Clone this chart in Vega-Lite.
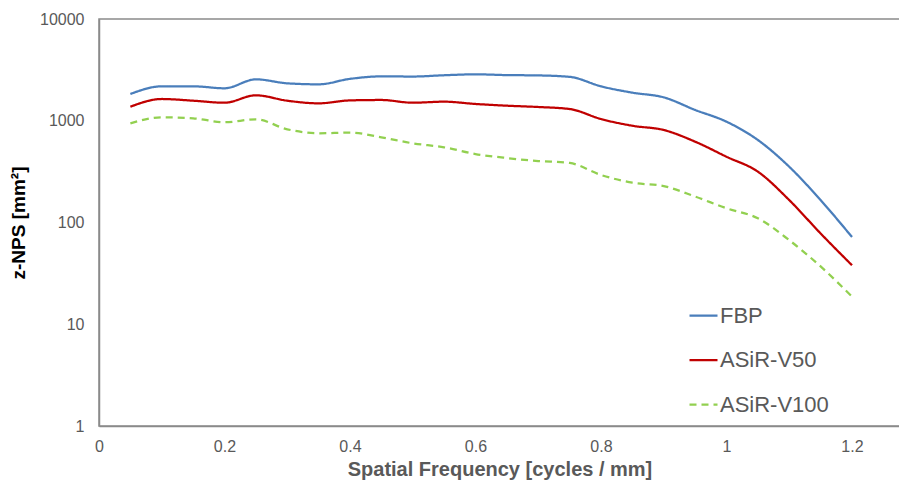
{
  "$schema": "https://vega.github.io/schema/vega-lite/v6.json",
  "width": 801,
  "height": 407,
  "autosize": {"type": "none"},
  "padding": {"left": 99, "top": 19, "right": 0, "bottom": 55},
  "background": "white",
  "config": {
    "view": {"stroke": "#8a8a8a", "strokeWidth": 1.5},
    "font": "Liberation Sans"
  },
  "data": {
    "values": [
      {"f": 0.05, "s": "FBP", "v": 1832},
      {"f": 0.10, "s": "FBP", "v": 2180},
      {"f": 0.15, "s": "FBP", "v": 2180},
      {"f": 0.20, "s": "FBP", "v": 2085},
      {"f": 0.25, "s": "FBP", "v": 2553},
      {"f": 0.30, "s": "FBP", "v": 2333},
      {"f": 0.35, "s": "FBP", "v": 2280},
      {"f": 0.40, "s": "FBP", "v": 2580},
      {"f": 0.45, "s": "FBP", "v": 2730},
      {"f": 0.50, "s": "FBP", "v": 2720},
      {"f": 0.55, "s": "FBP", "v": 2800},
      {"f": 0.60, "s": "FBP", "v": 2860},
      {"f": 0.65, "s": "FBP", "v": 2810},
      {"f": 0.70, "s": "FBP", "v": 2790},
      {"f": 0.75, "s": "FBP", "v": 2700},
      {"f": 0.80, "s": "FBP", "v": 2180},
      {"f": 0.85, "s": "FBP", "v": 1888},
      {"f": 0.90, "s": "FBP", "v": 1698},
      {"f": 0.95, "s": "FBP", "v": 1277},
      {"f": 1.00, "s": "FBP", "v": 979},
      {"f": 1.05, "s": "FBP", "v": 647},
      {"f": 1.10, "s": "FBP", "v": 353},
      {"f": 1.15, "s": "FBP", "v": 166},
      {"f": 1.20, "s": "FBP", "v": 72},
      {"f": 0.05, "s": "ASiR-V50", "v": 1374},
      {"f": 0.10, "s": "ASiR-V50", "v": 1636},
      {"f": 0.15, "s": "ASiR-V50", "v": 1574},
      {"f": 0.20, "s": "ASiR-V50", "v": 1504},
      {"f": 0.25, "s": "ASiR-V50", "v": 1778},
      {"f": 0.30, "s": "ASiR-V50", "v": 1574},
      {"f": 0.35, "s": "ASiR-V50", "v": 1483},
      {"f": 0.40, "s": "ASiR-V50", "v": 1585},
      {"f": 0.45, "s": "ASiR-V50", "v": 1600},
      {"f": 0.50, "s": "ASiR-V50", "v": 1504},
      {"f": 0.55, "s": "ASiR-V50", "v": 1540},
      {"f": 0.60, "s": "ASiR-V50", "v": 1462},
      {"f": 0.65, "s": "ASiR-V50", "v": 1406},
      {"f": 0.70, "s": "ASiR-V50", "v": 1365},
      {"f": 0.75, "s": "ASiR-V50", "v": 1304},
      {"f": 0.80, "s": "ASiR-V50", "v": 1040},
      {"f": 0.85, "s": "ASiR-V50", "v": 893},
      {"f": 0.90, "s": "ASiR-V50", "v": 811},
      {"f": 0.95, "s": "ASiR-V50", "v": 623},
      {"f": 1.00, "s": "ASiR-V50", "v": 443},
      {"f": 1.05, "s": "ASiR-V50", "v": 316},
      {"f": 1.10, "s": "ASiR-V50", "v": 166},
      {"f": 1.15, "s": "ASiR-V50", "v": 78},
      {"f": 1.20, "s": "ASiR-V50", "v": 38},
      {"f": 0.05, "s": "ASiR-V100", "v": 944},
      {"f": 0.10, "s": "ASiR-V100", "v": 1081},
      {"f": 0.15, "s": "ASiR-V100", "v": 1057},
      {"f": 0.20, "s": "ASiR-V100", "v": 967},
      {"f": 0.25, "s": "ASiR-V100", "v": 1033},
      {"f": 0.30, "s": "ASiR-V100", "v": 824},
      {"f": 0.35, "s": "ASiR-V100", "v": 753},
      {"f": 0.40, "s": "ASiR-V100", "v": 764},
      {"f": 0.45, "s": "ASiR-V100", "v": 687},
      {"f": 0.50, "s": "ASiR-V100", "v": 600},
      {"f": 0.55, "s": "ASiR-V100", "v": 548},
      {"f": 0.60, "s": "ASiR-V100", "v": 471},
      {"f": 0.65, "s": "ASiR-V100", "v": 430},
      {"f": 0.70, "s": "ASiR-V100", "v": 402},
      {"f": 0.75, "s": "ASiR-V100", "v": 385},
      {"f": 0.80, "s": "ASiR-V100", "v": 293},
      {"f": 0.85, "s": "ASiR-V100", "v": 246},
      {"f": 0.90, "s": "ASiR-V100", "v": 228},
      {"f": 0.95, "s": "ASiR-V100", "v": 180},
      {"f": 1.00, "s": "ASiR-V100", "v": 138},
      {"f": 1.05, "s": "ASiR-V100", "v": 110},
      {"f": 1.10, "s": "ASiR-V100", "v": 67},
      {"f": 1.15, "s": "ASiR-V100", "v": 37},
      {"f": 1.20, "s": "ASiR-V100", "v": 18.7}
    ]
  },
  "mark": {"type": "line", "interpolate": "monotone", "strokeWidth": 2.25},
  "encoding": {
    "x": {
      "field": "f",
      "type": "quantitative",
      "scale": {"domain": [0, 1.2765], "nice": false, "zero": true},
      "axis": {
        "values": [0, 0.2, 0.4, 0.6, 0.8, 1, 1.2],
        "format": "~g",
        "labelFlush": false,
        "grid": false,
        "ticks": false,
        "domain": true,
        "domainColor": "#8a8a8a",
        "domainWidth": 1.5,
        "labelFontSize": 16,
        "labelColor": "#595959",
        "labelPadding": 12,
        "title": "Spatial Frequency [cycles / mm]",
        "titleFontSize": 20,
        "titleFontWeight": "bold",
        "titleColor": "#595959",
        "titlePadding": 5
      }
    },
    "y": {
      "field": "v",
      "type": "quantitative",
      "scale": {"type": "log", "domain": [1, 10000], "nice": false},
      "axis": {
        "values": [1, 10, 100, 1000, 10000],
        "format": "d",
        "labelFlush": false,
        "grid": false,
        "ticks": false,
        "domain": true,
        "domainColor": "#8a8a8a",
        "domainWidth": 1.5,
        "labelFontSize": 16,
        "labelColor": "#595959",
        "labelPadding": 15,
        "title": "z-NPS [mm²]",
        "titleFontSize": 19,
        "titleFontWeight": "bold",
        "titleColor": "#000000",
        "titlePadding": 11
      }
    },
    "color": {
      "field": "s",
      "type": "nominal",
      "scale": {
        "domain": ["FBP", "ASiR-V50", "ASiR-V100"],
        "range": ["#4a7ebb", "#c00000", "#92d050"]
      },
      "legend": {
        "title": null,
        "orient": "none",
        "legendX": 589,
        "legendY": 281,
        "symbolType": "stroke",
        "symbolSize": 784,
        "symbolStrokeWidth": 2.25,
        "labelFontSize": 22,
        "labelColor": "#595959",
        "labelOffset": 1,
        "rowPadding": 17.5
      }
    },
    "strokeDash": {
      "field": "s",
      "type": "nominal",
      "scale": {
        "domain": ["FBP", "ASiR-V50", "ASiR-V100"],
        "range": [[1, 0], [1, 0], [7, 5]]
      },
      "legend": null
    }
  }
}
